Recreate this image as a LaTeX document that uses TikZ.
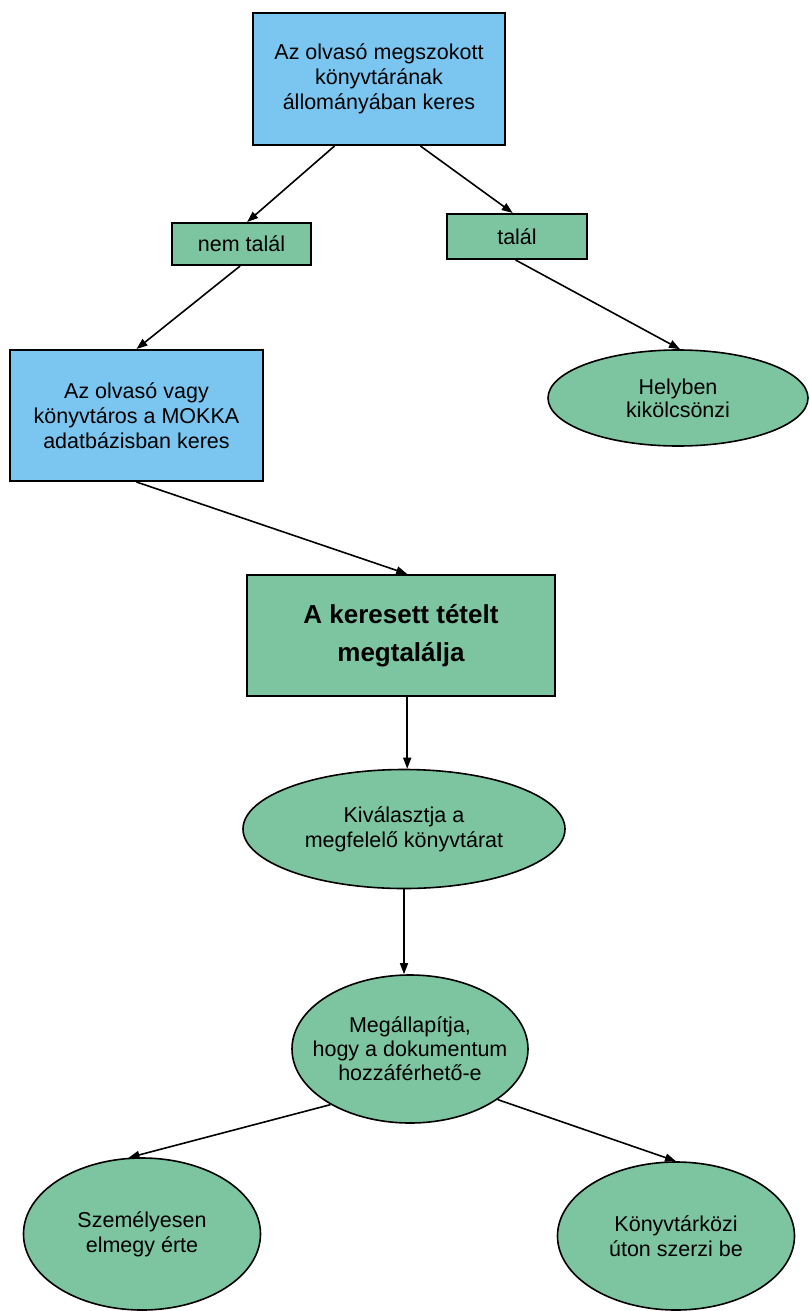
\documentclass[tikz,border=0pt]{standalone}
\usepackage{fontspec}
\setmainfont{Liberation Sans}
\usetikzlibrary{shapes.geometric,arrows.meta,calc}
\definecolor{boxblue}{RGB}{122,198,240}
\definecolor{boxgreen}{RGB}{124,197,160}
\begin{document}
\begin{tikzpicture}[x=1pt,y=-1pt,
  txt/.style={font=\fontsize{21.5}{25}\selectfont, align=center, inner sep=0pt},
  bluebox/.style={txt, rectangle, draw=black, line width=2pt, fill=boxblue},
  greenbox/.style={txt, rectangle, draw=black, line width=2pt, fill=boxgreen},
  greenell/.style={ellipse, inner sep=0pt, draw=black, line width=1.6pt, fill=boxgreen},
  arr/.style={line width=1.6pt, -{Triangle[length=11pt,width=8pt]}}]
\useasboundingbox (0,0) rectangle (809,1311);
\node[bluebox, minimum width=252pt, minimum height=132pt] (b1) at (379,79)
  {Az olvasó megszokott\\könyvtárának\\állományában keres};
\node[greenbox, minimum width=139pt, minimum height=42pt] (nem) at (241.5,244) {nem talál};
\node[greenbox, minimum width=140pt, minimum height=45pt] (tal) at (517,236.5) {talál};
\node[bluebox, minimum width=253pt, minimum height=131pt] (b3) at (136.5,415.5)
  {Az olvasó vagy\\könyvtáros a MOKKA\\adatbázisban keres};
\node[greenell, minimum width=260pt, minimum height=96pt,
  label={[txt, font=\fontsize{21.5}{23}\selectfont]center:Helyben\\kikölcsönzi}] (hely) at (678,398) {};
\node[greenbox, minimum width=308pt, minimum height=121pt, font=\fontsize{26}{38}\selectfont\bfseries] (ker) at (401,635.5)
  {A keresett tételt\\megtalálja};
\node[greenell, minimum width=322pt, minimum height=119pt,
  label={[txt]center:Kiválasztja a\\megfelelő könyvtárat}] (kiv) at (404,829) {};
\node[greenell, minimum width=236pt, minimum height=148pt,
  label={[txt, font=\fontsize{21.5}{24}\selectfont]center:Megállapítja,\\hogy a dokumentum\\hozzáférhető-e}] (meg) at (410,1049) {};
\node[greenell, minimum width=237pt, minimum height=152pt,
  label={[txt]center:Személyesen\\elmegy érte}] (szem) at (142,1234) {};
\node[greenell, minimum width=237pt, minimum height=148pt,
  label={[txt]center:Könyvtárközi\\úton szerzi be}] (konyv) at (676,1236) {};
\draw[arr] ($(b1.south west)!0.325!(b1.south east)$) -- ($(nem.north west)!0.54!(nem.north east)$);
\draw[arr] ($(b1.south west)!0.663!(b1.south east)$) -- ($(tal.north west)!0.47!(tal.north east)$);
\draw[arr] ($(nem.south west)!0.49!(nem.south east)$) -- (b3.north);
\draw[arr] ($(tal.south west)!0.49!(tal.south east)$) -- ($(hely.north)+(2,0)$);
\draw[arr] (b3.south) -- ($(ker.north west)!0.52!(ker.north east)$);
\draw[arr] ($(ker.south west)!0.52!(ker.south east)$) -- (kiv.north -| {$(ker.south west)!0.52!(ker.south east)$});
\draw[arr] (kiv.south) -- (meg.north -| kiv.south);
\draw[arr] (meg.215) -- (szem.100);
\draw[arr] (meg.330) -- (konyv.north);
\end{tikzpicture}
\end{document}
